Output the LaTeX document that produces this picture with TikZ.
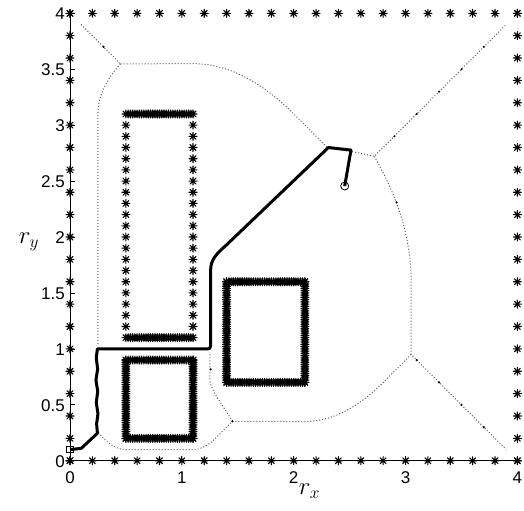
\documentclass[tikz,border=0pt]{standalone}
\usepackage{fontspec}
\setmainfont{Liberation Sans}
\begin{document}
\begin{tikzpicture}[x=111.85pt,y=111.85pt,
  ast/.pic={\draw[line width=1.1pt,line cap=round] (-4pt,0)--(4pt,0) (0,-4pt)--(0,4pt) (-2.9pt,-2.9pt)--(2.9pt,2.9pt) (-2.9pt,2.9pt)--(2.9pt,-2.9pt);},
  gvd/.style={draw=black!65, line width=1pt, dash pattern=on 1pt off 2pt},
  robot/.style={draw=black, line width=3pt, line join=round},
  ticklab/.style={font=\fontsize{17}{17}\selectfont, inner sep=0pt},
  axlab/.style={font=\fontsize{25}{25}\selectfont, inner sep=0pt},
  dot/.style={fill=black}]
\useasboundingbox (-0.6258,-0.4408) rectangle (4.059,4.119);

% generalized Voronoi diagram (dotted)
\draw[gvd] (0.1,3.9) -- (0.452,3.548);
\draw[gvd] plot[domain=3.548:3.1,samples=15] ({0.25+(\x-3.1)^2},\x) -- (0.25,1.03);
\draw[gvd] (0.452,3.548) -- (1.1,3.55) -- plot[domain=1.1:2.0,samples=25] (\x,{3.55-(\x-1.1)^2/1.8}) -- (2.31,2.79);
\draw[gvd] plot[domain=2.31:2.72,samples=10] (\x,{2.8-(\x-2.1)^2/4.8}) -- (3.9,3.9);
\draw[gvd] plot[domain=2.72:1.6,samples=20] ({3.05-(\x-1.6)^2/3.8},\x) -- (3.05,0.95) -- (3.9,0.1);
\draw[gvd] (3.05,0.95) -- (2.8,0.7) -- plot[domain=2.8:2.1,samples=20] (\x,{0.35+(\x-2.1)^2/1.4}) -- (1.452,0.352) -- (1.3,0.2) -- plot[domain=1.3:1.1,samples=10] (\x,{0.1+(\x-1.1)^2/0.4}) -- (0.5,0.1) -- plot[domain=0.5:0.253,samples=10] (\x,{0.1+(\x-0.5)^2/0.4});
\draw[gvd] (1.452,0.352) .. controls (1.38,0.48) and (1.26,0.62) .. (1.25,0.72) -- (1.25,0.97);

% sample dots on the diagram
\foreach \p in {(0.3,3.7),(2.9,2.9),(3.1,3.1),(3.3,3.3),(3.5,3.5),(3.7,3.7),(3.1,0.9),(3.3,0.7),(3.5,0.5),(3.7,0.3),(1.452,0.352),(1.258,0.817),(2.92,2.31)}
  \fill[dot] \p circle (1.2pt);

% obstacles
\foreach \i in {0,...,30} {\pic at ({0.5+\i*0.02},0.2) {ast}; \pic at ({0.5+\i*0.02},0.9) {ast};}
\foreach \i in {0,...,35} {\pic at (0.5,{0.2+\i*0.02}) {ast}; \pic at (1.1,{0.2+\i*0.02}) {ast};}
\foreach \i in {0,...,35} {\pic at ({1.4+\i*0.02},0.7) {ast}; \pic at ({1.4+\i*0.02},1.6) {ast};}
\foreach \i in {0,...,45} {\pic at (1.4,{0.7+\i*0.02}) {ast}; \pic at (2.1,{0.7+\i*0.02}) {ast};}
\foreach \i in {0,...,30} {\pic at ({0.5+\i*0.02},1.1) {ast}; \pic at ({0.5+\i*0.02},3.1) {ast};}
\foreach \i in {1,...,19} {\pic at (0.5,{1.1+\i*0.1}) {ast}; \pic at (1.1,{1.1+\i*0.1}) {ast};}

% axes
\draw[line width=0.9pt] (0,4) -- (0,0) -- (4,0);
\foreach \v in {0,0.5,...,4} \draw[line width=0.7pt] (0,\v) -- ++(5pt,0);
\foreach \v in {1,2,3} \draw[line width=0.7pt] (\v,0) -- ++(0,5pt);

% boundary stars
\foreach \i in {0,...,20} {\pic at (\i/5,0) {ast}; \pic at (\i/5,4) {ast}; \pic at (0,\i/5) {ast}; \pic at (4,\i/5) {ast};}

% start and goal
\node[draw, line width=0.8pt, minimum size=6.5pt, inner sep=0pt] (start) at (0,0.1) {};
\node[circle, draw, line width=0.8pt, minimum size=8pt, inner sep=0pt] (goal) at (2.456,2.456) {};

% robot path
\draw[robot] (start.center) -- (0.1,0.11) -- (0.245,0.245) -- (0.238,0.33) -- (0.25,0.42) -- (0.235,0.52) -- (0.248,0.62) -- (0.232,0.72) -- (0.247,0.82) -- (0.235,0.92) -- (0.245,1.0) -- (1.23,1.0) .. controls (1.25,1.0) .. (1.257,1.03) -- (1.257,1.70) .. controls (1.257,1.80) and (1.31,1.85) .. (1.40,1.93) -- (2.31,2.80) -- (2.512,2.777) -- (goal.center);

% tick labels
\foreach \v/\t in {0/0,0.5/0.5,1/1,1.5/1.5,2/2,2.5/2.5,3/3,3.5/3.5,4/4}
  \node[ticklab, anchor=base east] (yl\t) at (-0.045,\v-0.057) {\t};
\foreach \v in {0,1,2,3,4}
  \node[ticklab, anchor=base] (xl\v) at (\v,-0.2) {\v};

% axis labels
\node[axlab] (rx) at (2.14,-0.275) {$r_x$};
\node[axlab] (ry) at (-0.367,1.955) {$r_y$};
\end{tikzpicture}
\end{document}
